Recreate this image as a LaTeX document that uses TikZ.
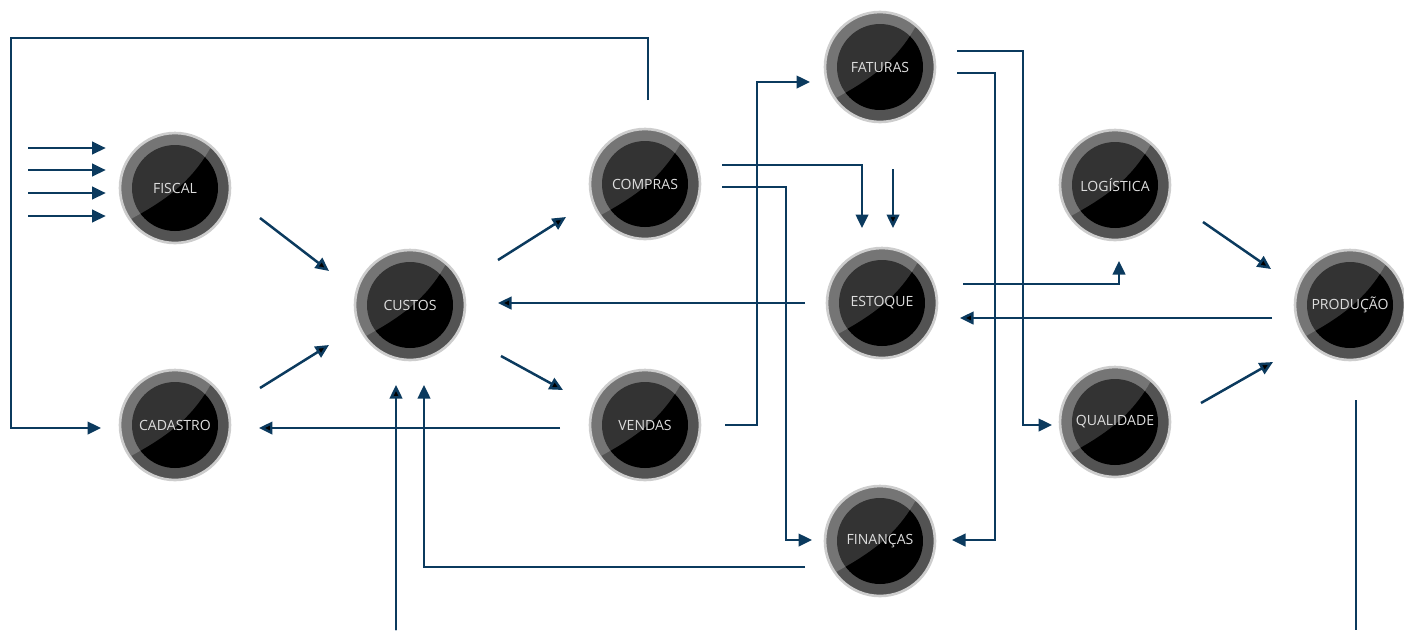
\documentclass[tikz,border=0pt]{standalone}
\usepackage{fontspec}
\newfontfamily\labelfont{Open Sans}
\usetikzlibrary{arrows.meta}
\definecolor{linkblue}{HTML}{0B3A5E}
\definecolor{ringgray}{HTML}{535353}
\definecolor{rimgray}{HTML}{CDCDCD}
\definecolor{labelgray}{HTML}{DDDDDD}
\tikzset{
  bubble/.style={circle, minimum size=2.2cm, inner sep=0pt, fill=ringgray,
    draw=rimgray, line width=1.5pt, text=labelgray,
    font=\labelfont\fontsize{8}{9}\selectfont,
    path picture={
      \fill[black] (path picture bounding box.center) circle (0.86cm);
      \fill[white, opacity=0.2]
        ([shift={(-1.3cm,-0.85cm)}]path picture bounding box.center)
        .. controls +(0.9cm,0.5cm) and +(-0.5cm,-1.2cm) ..
        ([shift={(0.9cm,1.2cm)}]path picture bounding box.center)
        -- ([shift={(-1.3cm,1.3cm)}]path picture bounding box.center) -- cycle;
    }},
  link/.style={draw=linkblue, line width=0.05cm, -{Triangle[length=0.27cm,width=0.25cm]}},
  plain/.style={draw=linkblue, line width=0.05cm}
}

\begin{document}
\begin{tikzpicture}[x=0.02cm, y=-0.02cm]
\useasboundingbox (0,0) rectangle (1404,630);
\node[bubble] (FIS) at (175,188) {FISCAL};
\node[bubble] (CAD) at (175,425) {CADASTRO};
\node[bubble] (CUS) at (410,305) {CUSTOS};
\node[bubble] (COM) at (645,184) {COMPRAS};
\node[bubble] (VEN) at (645,425) {VENDAS};
\node[bubble] (FAT) at (880,67) {FATURAS};
\node[bubble] (EST) at (882,303) {ESTOQUE};
\node[bubble] (FIN) at (880,541) {FINANÇAS};
\node[bubble] (LOG) at (1115,185) {LOGÍSTICA};
\node[bubble] (QUA) at (1115,422) {QUALIDADE};
\node[bubble] (PRO) at (1350,305) {PRODUÇÃO};
% free ends
\foreach \y [count=\i] in {148,170,193,216}
  \coordinate (in\i) at (28,\y);
\coordinate (NW) at (11,38);
\coordinate (estin) at (893,169);
\coordinate (cusin) at (396,630);
\coordinate (proout) at (1356,630);
\foreach \i in {1,...,4}
  \draw[link, shorten >=0.26cm] (in\i) -- (in\i -| FIS.west);
% straight links
\path[link]
([shift={(85,30)}]FIS.center) edge ([shift={(-81,-34)}]CUS.center)
([shift={(85,-37)}]CAD.center) edge ([shift={(-81,40)}]CUS.center)
([shift={(88,-45)}]CUS.center) edge ([shift={(-79,33)}]COM.center)
([shift={(91,51)}]CUS.center) edge ([shift={(-82,-35)}]VEN.center)
([shift={(-85,3)}]VEN.center) edge ([shift={(84,3)}]CAD.center)
([shift={(-77,0)}]EST.center) edge ([shift={(88,-2)}]CUS.center)
([shift={(-78,13)}]PRO.center) edge ([shift={(78,15)}]EST.center)
([shift={(88,37)}]LOG.center) edge ([shift={(-79,-36)}]PRO.center)
([shift={(86,-19)}]QUA.center) edge ([shift={(-77,57)}]PRO.center)
(estin) edge ([shift={(11,-75)}]EST.center)
(cusin) edge ([shift={(-14,80)}]CUS.center);
% bent links
\draw[link] ([shift={(3,-84)}]COM.center) |- (NW) |- ([shift={(-74,3)}]CAD.center);
\draw[link] ([shift={(80,0)}]VEN.center) -- ++(32,0) |- ([shift={(-70,15)}]FAT.center);
\draw[link] ([shift={(77,-19)}]COM.center) -| ([shift={(-20,-75)}]EST.center);
\draw[link] ([shift={(77,3)}]COM.center) -- ++(64,0) |- ([shift={(-68,-1)}]FIN.center);
\draw[link] ([shift={(-75,26)}]FIN.center) -| ([shift={(14,80)}]CUS.center);
\draw[link] ([shift={(77,-16)}]FAT.center) -- ++(66,0) |- ([shift={(-63,3)}]QUA.center);
\draw[link] ([shift={(77,6)}]FAT.center) -- ++(38,0) |- ([shift={(72,-1)}]FIN.center);
\draw[link] ([shift={(81,-19)}]EST.center) -| ([shift={(4,76)}]LOG.center);
\draw[plain] ([shift={(6,95)}]PRO.center) -- (proout);
\end{tikzpicture}
\end{document}
